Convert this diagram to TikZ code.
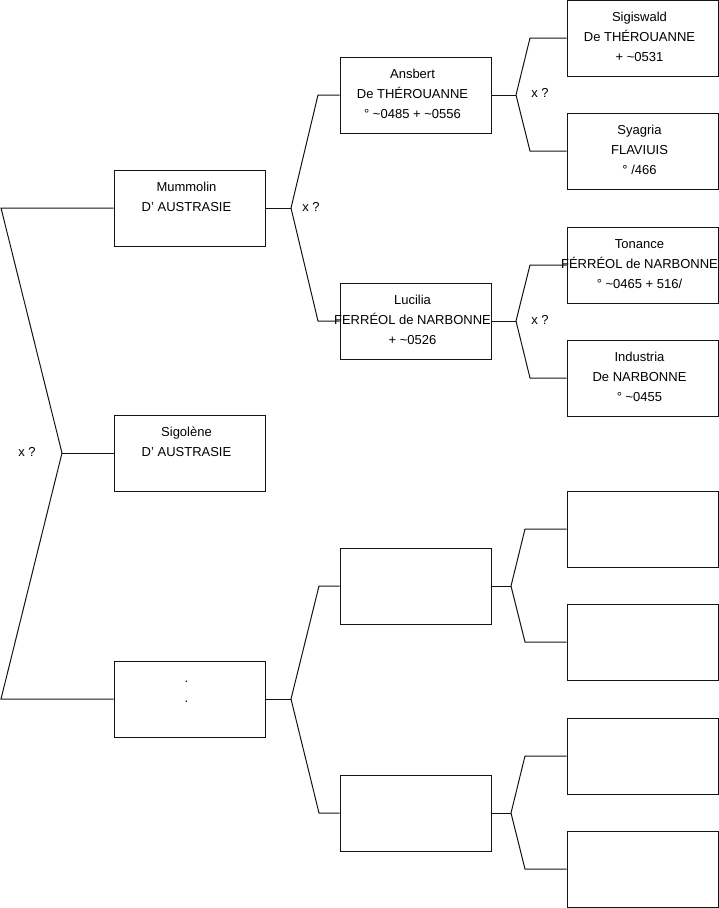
\documentclass[tikz,border=0pt]{standalone}
\usepackage{fontspec}
\setmainfont{Liberation Sans}
\definecolor{ln}{RGB}{20,20,20}
\tikzset{
  famBox/.style={draw=ln, line width=1pt, minimum width=151pt, minimum height=76pt, inner sep=0pt},
  famTxt/.style={anchor=north, inner sep=0pt, align=center, font={\fontsize{13}{20}\selectfont}},
  conn/.style={draw=ln, line width=1pt},
  xq/.style={inner sep=0pt, font={\fontsize{13}{20}\selectfont}}
}
\newcommand{\famtext}[3]{\node[famTxt] (#1t) at ([xshift=-3pt,yshift=-12pt]#1.north) {\rule{0pt}{9.5pt}#2};}
\begin{document}
\begin{tikzpicture}[x=1pt,y=-1pt]
\useasboundingbox (0,0) rectangle (719,908);
% generation 1
\node[famBox] (m) at (189.5,208) {};
\node[famBox] (s) at (189.5,453) {};
\node[famBox] (d) at (189.5,699) {};
% generation 2
\node[famBox] (a) at (415.5,95) {};
\node[famBox] (l) at (415.5,321) {};
\node[famBox] (e1) at (415.5,586) {};
\node[famBox] (e2) at (415.5,813) {};
% generation 3
\node[famBox] (sg) at (642.5,38) {};
\node[famBox] (sy) at (642.5,151) {};
\node[famBox] (to) at (642.5,265) {};
\node[famBox] (in) at (642.5,378) {};
\node[famBox] (f1) at (642.5,529) {};
\node[famBox] (f2) at (642.5,642) {};
\node[famBox] (f3) at (642.5,756) {};
\node[famBox] (f4) at (642.5,869) {};
% texts
\famtext{m}{Mummolin\\D' AUSTRASIE}{}
\famtext{s}{Sigolène\\D' AUSTRASIE}{}
\famtext{d}{.\\.}{}
\famtext{a}{Ansbert\\De THÉROUANNE\\° \textasciitilde0485 + \textasciitilde0556}{}
\famtext{l}{Lucilia\\FERRÉOL de NARBONNE\\+ \textasciitilde0526}{}
\famtext{sg}{Sigiswald\\De THÉROUANNE\\+ \textasciitilde0531}{}
\famtext{sy}{Syagria\\FLAVIUIS\\° /466}{}
\famtext{to}{Tonance\\FÉRRÉOL de NARBONNE\\° \textasciitilde0465 + 516/}{}
\famtext{in}{Industria\\De NARBONNE\\° \textasciitilde0455}{}
% left fork
\coordinate (r0) at (1,208);
\coordinate (r1) at (62,453);
\coordinate (r2) at (1,699);
\draw[conn] (m.west) -- (r0) -- (r1) -- (r2) -- (d.west);
\draw[conn] (r1) -- (s.west);
\node[xq] (xq0) at (27,452) {x ?};
% Mummolin fork
\coordinate (mf) at (291,208);
\draw[conn] (m.east) -- (mf);
\draw[conn] (mf) -- (318,95) -- (a.west);
\draw[conn] (mf) -- (318,321) -- (l.west);
\node[xq] (xq1) at (311,207) {x ?};
% dot fork
\coordinate (df) at (291,699);
\draw[conn] (d.east) -- (df);
\draw[conn] (df) -- (319,586) -- (e1.west);
\draw[conn] (df) -- (319,813) -- (e2.west);
% Ansbert fork
\coordinate (af) at (516,95);
\draw[conn] (a.east) -- (af);
\draw[conn] (af) -- (530,38) -- (sg.west);
\draw[conn] (af) -- (530,151) -- (sy.west);
\node[xq] (xq2) at (540,93) {x ?};
% Lucilia fork
\coordinate (lf) at (516,321);
\draw[conn] (l.east) -- (lf);
\draw[conn] (lf) -- (530,265) -- (to.west);
\draw[conn] (lf) -- (530,378) -- (in.west);
\node[xq] (xq3) at (540,320) {x ?};
% empty forks
\coordinate (ef1) at (511,586);
\draw[conn] (e1.east) -- (ef1);
\draw[conn] (ef1) -- (525,529) -- (f1.west);
\draw[conn] (ef1) -- (525,642) -- (f2.west);
\coordinate (ef2) at (511,813);
\draw[conn] (e2.east) -- (ef2);
\draw[conn] (ef2) -- (525,756) -- (f3.west);
\draw[conn] (ef2) -- (525,869) -- (f4.west);
\end{tikzpicture}
\end{document}
